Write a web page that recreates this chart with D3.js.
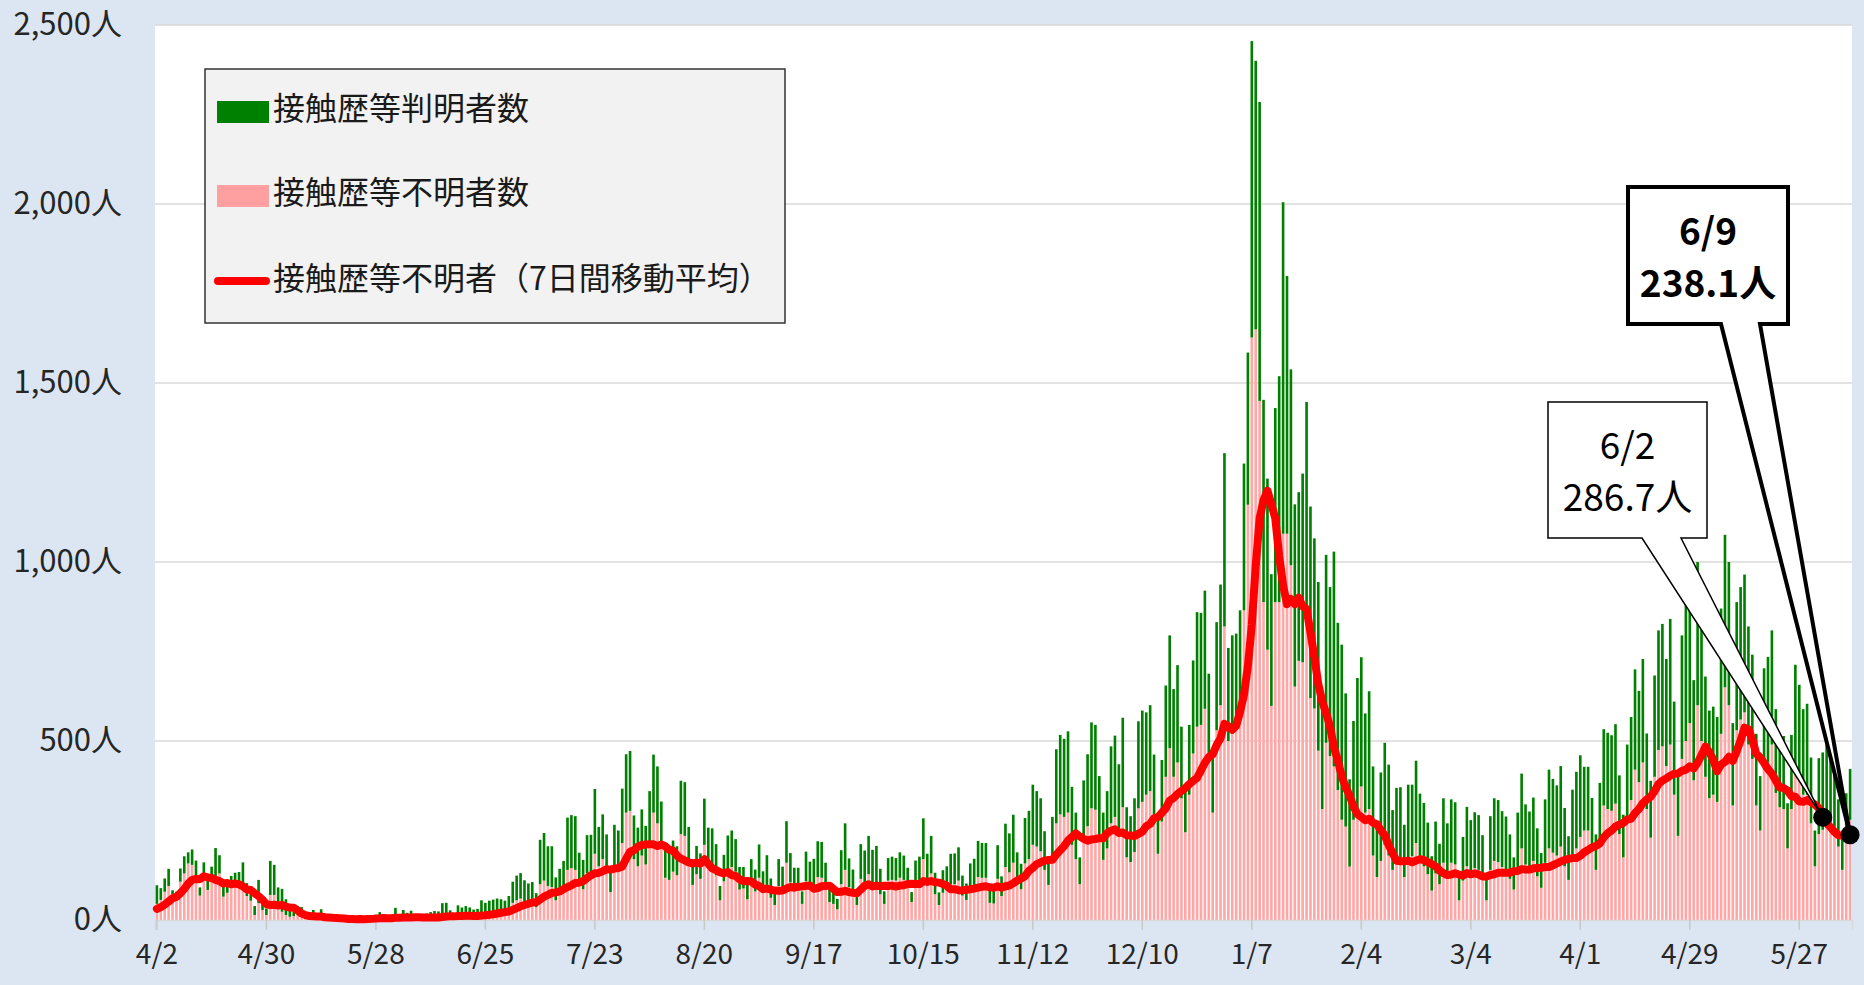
<!DOCTYPE html>
<html>
<head>
<meta charset="utf-8"/>
<script src="https://cdn.jsdelivr.net/npm/d3@7"></script>
<style>
  body { margin: 0; background: #dce6f2; }
  svg { display: block; }
  text { font-family: "Noto Sans CJK JP", "Noto Sans", sans-serif; }
</style>
</head>
<body>
<div id="chart"></div>
<script>
// first day shown is 2020-04-02, one bar per day up to 2021-06-09
var startDate = new Date(2020, 3, 2);

// unknown-contact cases of the six days before 4/2 (only feed the first averages)
var leadUnknown = [20, 30, 35, 10, 40, 37];

// all new cases per day (green + pink bar height)
var totalCases = [
  97, 89, 116, 143, 83, 79, 144, 178, 189, 197, 166, 91, 161, 127, 149, 201, 181, 107, 102, 123, 132, 134, 161, 103, 72, 39, 112, 52, 32,
  165, 154, 91, 87, 58, 38, 23, 39, 36, 22, 15, 28, 10, 30, 9, 14, 5, 10, 5, 5, 3, 3, 2, 14, 8, 10, 11, 15,
  22, 14, 5, 13, 34, 12, 28, 20, 26, 14, 13, 12, 18, 22, 25, 24, 47, 48, 27, 16, 41, 35, 39, 35, 29, 31, 55, 48,
  54, 57, 60, 58, 54, 67, 107, 124, 131, 111, 102, 106, 75, 224, 243, 206, 206, 119, 143, 165, 286, 293, 290, 188, 168, 237, 238, 366,
  260, 295, 239, 131, 266, 250, 367, 463, 472, 292, 258, 309, 263, 360, 462, 429, 331, 197, 188, 222, 206, 389, 385, 260, 161, 207, 186, 339,
  258, 256, 212, 95, 182, 236, 250, 226, 148, 148, 100, 170, 141, 211, 136, 181, 116, 77, 170, 149, 276, 187, 146, 146, 80, 191, 163, 171,
  220, 218, 160, 98, 88, 59, 195, 270, 172, 141, 78, 212, 194, 235, 196, 207, 143, 80, 173, 177, 173, 189, 180, 146, 78, 166, 177, 284,
  185, 235, 132, 77, 139, 150, 185, 186, 203, 124, 102, 158, 171, 221, 215, 215, 87, 85, 209, 122, 269, 242, 294, 189, 157, 285, 305, 378,
  360, 340, 248, 175, 288, 477, 517, 506, 527, 372, 300, 175, 390, 463, 552, 545, 402, 300, 360, 485, 515, 435, 565, 315, 290, 340, 555, 585,
  580, 600, 462, 295, 447, 655, 795, 645, 712, 540, 380, 545, 725, 860, 858, 920, 688, 468, 832, 937, 1304, 760, 795, 800, 865, 1275, 1585, 2455,
  2400, 2285, 1453, 1233, 966, 1430, 1519, 2005, 1799, 1538, 1161, 1195, 1247, 1447, 1155, 1066, 944, 600, 1020, 930, 1029, 830, 769, 633, 393, 556, 676, 734,
  577, 639, 429, 276, 412, 495, 434, 307, 369, 371, 266, 378, 378, 445, 353, 327, 272, 178, 275, 213, 340, 270, 337, 329, 121, 232, 316, 279,
  301, 293, 237, 116, 290, 340, 335, 304, 289, 239, 175, 300, 409, 323, 303, 342, 256, 187, 337, 420, 394, 376, 430, 313, 234, 364, 414, 460,
  428, 428, 341, 239, 383, 533, 523, 516, 547, 404, 294, 490, 567, 700, 640, 729, 521, 389, 683, 809, 827, 729, 841, 610, 408, 795, 888, 986,
  670, 1000, 844, 680, 585, 596, 567, 870, 1076, 1000, 550, 888, 930, 965, 820, 741, 520, 402, 703, 735, 809, 589, 517, 514, 326, 517, 713, 657,
  589, 604, 454, 250, 452, 468, 488, 453, 419, 337, 226, 354, 422
];

// cases with unknown contact history per day (pink bar)
var unknownCases = [
  45, 56, 79, 95, 72, 70, 107, 130, 158, 154, 112, 68, 126, 84, 121, 120, 130, 65, 76, 103, 98, 103, 84, 67, 54, 14, 47, 28, 14,
  70, 70, 42, 23, 14, 9, 11, 17, 12, 8, 6, 10, 5, 10, 4, 5, 2, 4, 2, 2, 1, 2, 1, 6, 3, 4, 5, 6,
  8, 6, 2, 5, 12, 5, 10, 8, 9, 6, 5, 5, 7, 8, 9, 9, 14, 15, 10, 6, 13, 12, 14, 12, 10, 11, 17, 16,
  22, 24, 26, 25, 24, 30, 48, 55, 60, 52, 48, 50, 36, 100, 110, 95, 92, 55, 70, 82, 140, 145, 140, 98, 86, 130, 132, 185,
  150, 170, 140, 78, 150, 145, 215, 300, 305, 170, 150, 180, 155, 220, 300, 270, 200, 118, 112, 135, 125, 240, 235, 160, 98, 128, 115, 210,
  150, 150, 125, 55, 108, 140, 148, 135, 85, 88, 58, 100, 80, 118, 75, 98, 62, 42, 95, 85, 160, 105, 82, 82, 45, 108, 92, 96,
  120, 118, 88, 50, 45, 30, 100, 140, 92, 75, 42, 115, 105, 128, 100, 105, 72, 45, 110, 112, 110, 118, 112, 95, 50, 105, 112, 170,
  100, 130, 72, 42, 76, 82, 100, 100, 110, 68, 56, 86, 94, 120, 118, 118, 48, 46, 115, 67, 148, 133, 160, 104, 86, 158, 170, 210,
  205, 192, 140, 98, 162, 270, 295, 288, 300, 210, 170, 100, 222, 262, 312, 308, 226, 168, 200, 270, 288, 242, 315, 175, 162, 190, 312, 330,
  350, 360, 285, 185, 275, 400, 480, 400, 440, 340, 245, 350, 465, 540, 545, 590, 450, 300, 530, 600, 820, 500, 520, 530, 570, 865, 1160, 1627,
  1650, 1450, 888, 755, 598, 888, 888, 1079, 1079, 991, 652, 724, 720, 836, 620, 591, 473, 310, 495, 458, 429, 363, 280, 261, 149, 280, 308, 373,
  300, 310, 180, 120, 165, 210, 180, 140, 165, 170, 120, 175, 178, 215, 165, 150, 128, 82, 130, 100, 160, 128, 160, 155, 55, 110, 150, 135,
  145, 140, 115, 55, 140, 165, 162, 148, 140, 115, 85, 145, 200, 155, 145, 165, 122, 90, 160, 200, 188, 180, 205, 150, 112, 175, 200, 232,
  250, 250, 200, 140, 225, 320, 310, 305, 325, 240, 175, 290, 335, 420, 385, 440, 310, 230, 400, 475, 485, 430, 490, 350, 235, 450, 500, 550,
  390, 600, 500, 400, 340, 350, 330, 520, 650, 600, 320, 530, 560, 580, 490, 450, 320, 250, 420, 440, 490, 355, 315, 310, 200, 310, 430, 395,
  350, 350, 270, 150, 240, 252, 280, 272, 260, 205, 140, 230, 280
];

var yTicks = [0, 500, 1000, 1500, 2000, 2500];
var legendLabels = ["接触歴等判明者数", "接触歴等不明者数", "接触歴等不明者（7日間移動平均）"];
var calloutDays = ["6/2", "6/9"];

var W = 1864, H = 985;
var fmtDay = d3.timeFormat("%-m/%-d");
var days = totalCases.map(function(d, i) { return d3.timeDay.offset(startDate, i); });
var dayLabels = days.map(fmtDay);

// 7 day trailing average of the unknown cases
var series = leadUnknown.concat(unknownCases);
var avg7 = unknownCases.map(function(d, i) {
  return d3.mean(series.slice(i, i + 7));
});

var svg = d3.select("#chart").append("svg").attr("width", W).attr("height", H);
svg.append("rect").attr("width", W).attr("height", H).attr("fill", "#dce6f2");

var x = d3.scaleBand().domain(d3.range(totalCases.length))
  .range([155, 1852]).paddingInner(0.33).paddingOuter(0.15);
var y = d3.scaleLinear().domain([0, 2500]).range([920, 25]);
var cx = function(i) { return x(i) + x.bandwidth() / 2; };

svg.append("rect").attr("x", 155).attr("y", 25)
  .attr("width", 1852 - 155).attr("height", 920 - 25).attr("fill", "#ffffff");

// grid
svg.append("g").selectAll("line").data(yTicks.filter(function(d) { return d > 0; }))
  .enter().append("line")
  .attr("x1", 155).attr("x2", 1852)
  .attr("y1", function(d) { return y(d); }).attr("y2", function(d) { return y(d); })
  .attr("stroke", "#d9d9d9").attr("stroke-width", 1.5);

// y axis labels
var yAxis = d3.axisLeft(y).tickValues(yTicks)
  .tickFormat(function(d) { return d3.format(",")(d) + "人"; })
  .tickSize(0).tickPadding(33);
var gy = svg.append("g").attr("transform", "translate(155,0)").call(yAxis);
gy.select(".domain").remove();
gy.selectAll("text").attr("font-size", 31).attr("fill", "#262626")
  .style("font-family", '"Noto Sans CJK JP", sans-serif');

// bars: pink (unknown) at the bottom, green (known) on top
var bars = svg.append("g");
bars.selectAll("rect.unk").data(unknownCases).enter().append("rect")
  .attr("class", "unk")
  .attr("x", function(d, i) { return x(i); })
  .attr("width", x.bandwidth())
  .attr("y", function(d) { return y(d); })
  .attr("height", function(d) { return y(0) - y(d); })
  .attr("fill", "#ffa6a6");
bars.selectAll("rect.known").data(totalCases).enter().append("rect")
  .attr("class", "known")
  .attr("x", function(d, i) { return x(i); })
  .attr("width", x.bandwidth())
  .attr("y", function(d) { return y(d); })
  .attr("height", function(d, i) { return y(unknownCases[i]) - y(d); })
  .attr("fill", "#008000");

// x axis
var tickIdx = d3.range(0, totalCases.length, 28);
var xAxis = d3.axisBottom(x).tickValues(tickIdx)
  .tickFormat(function(i) { return dayLabels[i]; })
  .tickSize(10).tickPadding(14);
var gx = svg.append("g").attr("transform", "translate(0,920)").call(xAxis);
gx.select(".domain").attr("stroke", "#d9d9d9").attr("stroke-width", 1.5);
gx.selectAll(".tick line").attr("stroke", "#c8c8c8").attr("stroke-width", 1.5);
gx.selectAll("text").attr("font-size", 28).attr("fill", "#262626")
  .style("font-family", '"Noto Sans CJK JP", sans-serif');

// moving average line
var line = d3.line().x(function(d, i) { return cx(i); }).y(function(d) { return y(d); });
svg.append("path").datum(avg7).attr("d", line)
  .attr("fill", "none").attr("stroke", "#ff0000").attr("stroke-width", 8)
  .attr("stroke-linejoin", "round").attr("stroke-linecap", "round");

// legend
var lg = svg.append("g");
lg.append("rect").attr("x", 205).attr("y", 69).attr("width", 580).attr("height", 254)
  .attr("fill", "#f2f2f2").attr("stroke", "#333").attr("stroke-width", 1.5);
lg.append("rect").attr("x", 217).attr("y", 101).attr("width", 52).attr("height", 22).attr("fill", "#008000");
lg.append("rect").attr("x", 217).attr("y", 185).attr("width", 52).attr("height", 22).attr("fill", "#ffa0a0");
lg.append("line").attr("x1", 218).attr("x2", 266).attr("y1", 281).attr("y2", 281)
  .attr("stroke", "#ff0000").attr("stroke-width", 8).attr("stroke-linecap", "round");
lg.selectAll("text").data(legendLabels).enter().append("text")
  .attr("x", 273).attr("y", function(d, i) { return [106, 190, 276][i]; })
  .attr("dominant-baseline", "central")
  .attr("font-size", 32).attr("fill", "#1a1a1a")
  .text(function(d) { return d; });

// callouts for 6/2 and 6/9 (last occurrence = 2021)
function callout(dayLabel, box, wedge, sw, bold) {
  var i = dayLabels.lastIndexOf(dayLabel);
  var tx = cx(i), ty = y(avg7[i]);
  var p = "M" + box[0] + "," + box[1] + "H" + box[2] + "V" + box[3] +
    "H" + wedge[1] + "L" + tx + "," + ty + "L" + wedge[0] + "," + box[3] +
    "H" + box[0] + "Z";
  var g = svg.append("g");
  g.append("path").attr("d", p).attr("fill", "#ffffff")
    .attr("stroke", "#000").attr("stroke-width", sw).attr("stroke-linejoin", "miter");
  var mx = (box[0] + box[2]) / 2;
  var t1 = box[1] + (box[3] - box[1]) * 0.42;
  var lines = [dayLabel, d3.format(".1f")(avg7[i]) + "人"];
  g.selectAll("text").data(lines).enter().append("text")
    .attr("x", mx).attr("y", function(d, k) { return t1 + k * 52; })
    .attr("text-anchor", "middle")
    .attr("font-size", 37).attr("font-weight", bold ? 700 : 400).attr("fill", "#000")
    .text(function(d) { return d; });
  return [tx, ty];
}
var dots = [];
dots.push(callout(calloutDays[0], [1548, 402, 1707, 538], [1642, 1681], 1.5, false));
dots.push(callout(calloutDays[1], [1628, 187, 1788, 324], [1721, 1760], 4, true));
svg.append("g").selectAll("circle").data(dots).enter().append("circle")
  .attr("cx", function(d) { return d[0]; }).attr("cy", function(d) { return d[1]; })
  .attr("r", 9.5).attr("fill", "#000");
</script>
</body>
</html>
